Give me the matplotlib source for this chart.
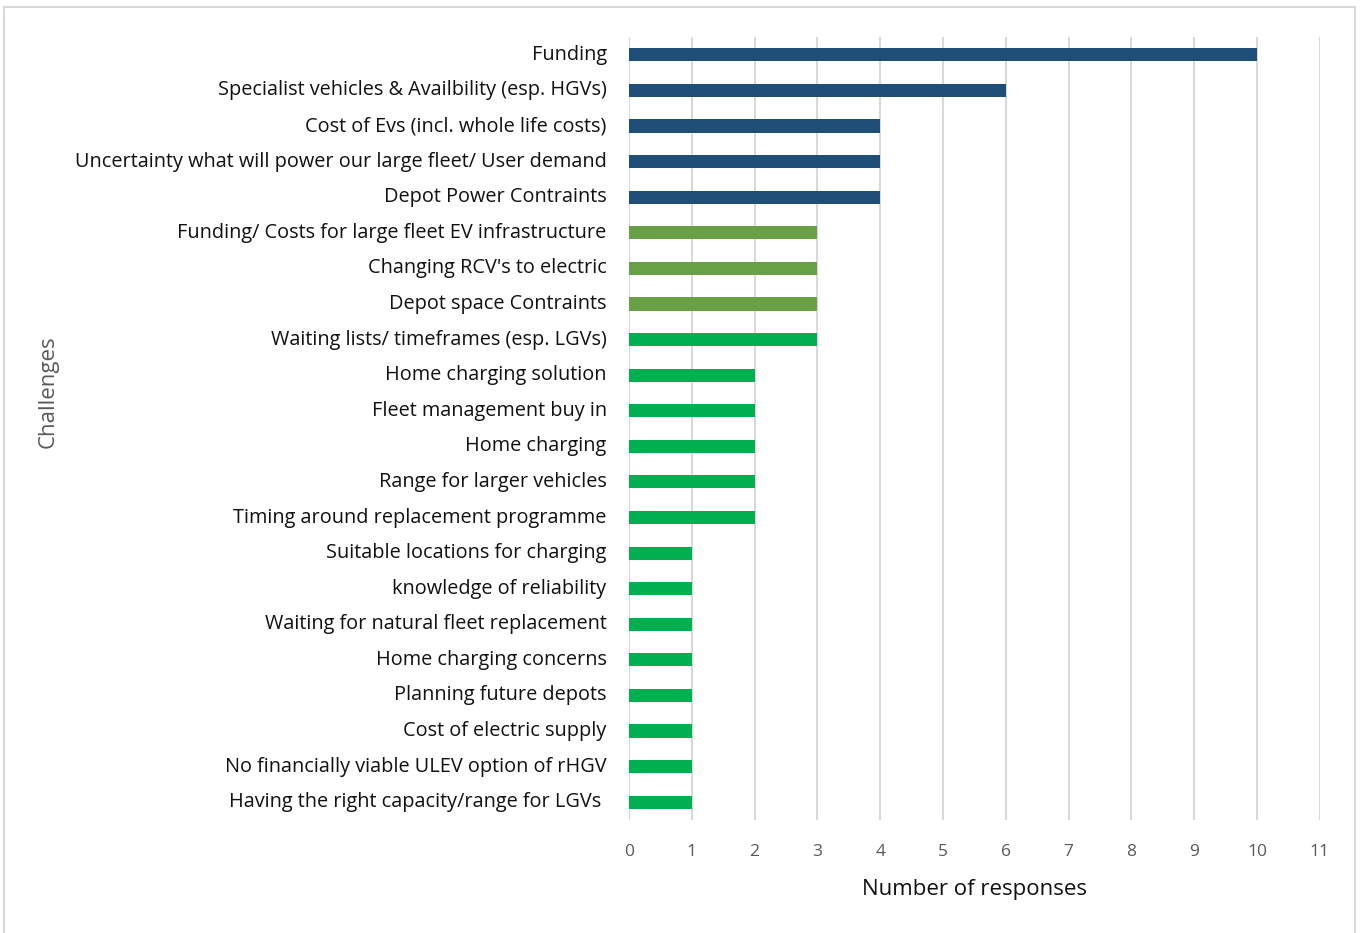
import matplotlib.pyplot as plt
from matplotlib.patches import Rectangle

# challenges listed top to bottom with number of responses
challenges = [
    "Funding",
    "Specialist vehicles & Availbility (esp. HGVs)",
    "Cost of Evs (incl. whole life costs)",
    "Uncertainty what will power our large fleet/ User demand",
    "Depot Power Contraints",
    "Funding/ Costs for large fleet EV infrastructure",
    "Changing RCV's to electric",
    "Depot space Contraints",
    "Waiting lists/ timeframes (esp. LGVs)",
    "Home charging solution",
    "Fleet management buy in",
    "Home charging",
    "Range for larger vehicles",
    "Timing around replacement programme",
    "Suitable locations for charging",
    "knowledge of reliability",
    "Waiting for natural fleet replacement",
    "Home charging concerns",
    "Planning future depots",
    "Cost of electric supply",
    "No financially viable ULEV option of rHGV",
    "Having the right capacity/range for LGVs ",
]
responses = [10, 6, 4, 4, 4, 3, 3, 3, 3, 2, 2, 2, 2, 2, 1, 1, 1, 1, 1, 1, 1, 1]
groups = ["top"] * 5 + ["mid"] * 3 + ["rest"] * 14
colours = {"top": "#1F4E79", "mid": "#68A145", "rest": "#00B050"}

plt.rcParams['font.family'] = ['Open Sans', 'DejaVu Sans']

fig = plt.figure(figsize=(13.62, 9.33), dpi=100)
ax = fig.add_axes([0.4618, 0.1211, 0.5073, 0.8392])

ypos = list(range(len(challenges)))
ax.barh(ypos, responses, height=0.37, color=[colours[g] for g in groups], zorder=3)

ax.set_xlim(0, 11)
ax.set_ylim(len(challenges) - 0.5, -0.5)
ax.set_xticks(range(0, 12))
ax.set_yticks(ypos)
ax.set_yticklabels(challenges, fontsize=14.3, color="#111111", va="center")
ax.tick_params(axis="y", length=0, pad=16)
ax.tick_params(axis="x", length=0, pad=17, labelsize=12.5, labelcolor="#595959")

ax.grid(axis="x", color="#D9D9D9", linewidth=1.5, zorder=0)
for s in ax.spines.values():
    s.set_visible(False)

ax.set_xlabel("Number of responses", fontsize=16, color="#111111", labelpad=14)
fig.text(0.035, 0.58, "Challenges", rotation=90, fontsize=16, color="#595959",
         ha="center", va="center")

# light frame round the whole chart
fig.patches.append(Rectangle((0.003, -0.01), 0.992, 1.002, transform=fig.transFigure,
                             fill=False, edgecolor="#D9D9D9", linewidth=1.5))

fig.savefig("out.png", dpi=100)
